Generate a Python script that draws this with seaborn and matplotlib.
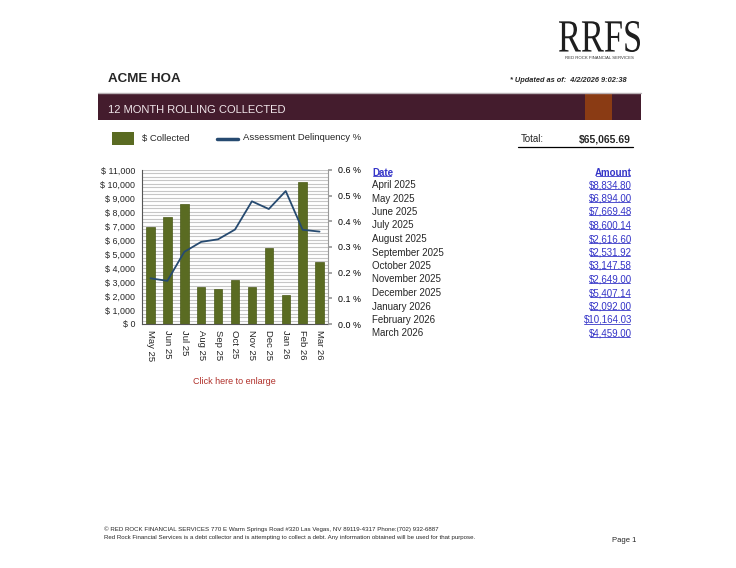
import numpy as np
import matplotlib
matplotlib.use("Agg")
import matplotlib.pyplot as plt
from matplotlib.patches import Rectangle, PathPatch
from matplotlib.lines import Line2D
from matplotlib.textpath import TextPath
from matplotlib.font_manager import FontProperties
from matplotlib.transforms import Affine2D
import seaborn as sns

# chart data
months = ["May 25", "Jun 25", "Jul 25", "Aug 25", "Sep 25", "Oct 25",
          "Nov 25", "Dec 25", "Jan 26", "Feb 26", "Mar 26"]
collected = [6894.00, 7669.48, 8600.14, 2616.60, 2531.92, 3147.58,
             2649.00, 5407.14, 2092.00, 10164.03, 4459.00]
delinquency = [0.178, 0.168, 0.281, 0.320, 0.330, 0.368,
               0.478, 0.448, 0.518, 0.367, 0.360]

# table data
table_dates = ["April 2025", "May 2025", "June 2025", "July 2025", "August 2025",
               "September 2025", "October 2025", "November 2025", "December 2025",
               "January 2026", "February 2026", "March 2026"]
table_amounts = [8834.80, 6894.00, 7669.48, 8600.14, 2616.60, 2531.92,
                 3147.58, 2649.00, 5407.14, 2092.00, 10164.03, 4459.00]

left_ticks = list(range(0, 11001, 1000))
right_ticks = [0.0, 0.1, 0.2, 0.3, 0.4, 0.5, 0.6]

GREEN = "#5a6b22"
NAVY = "#264a70"
MAROON = "#441c2d"
RUST = "#8a3b14"
LINK = "#3535c8"

W, H = 736, 568

sns.set_theme(style="white")
plt.rcParams["font.family"] = ["Liberation Sans", "DejaVu Sans"]

fig = plt.figure(figsize=(W / 100, H / 100), dpi=100)
fig.patch.set_facecolor("white")


def fx(px):
    return px / W


def fy(py):
    return 1 - py / H


# main chart
ax = fig.add_axes([fx(142), fy(324), fx(328) - fx(142), fy(170) - fy(324)])
sns.barplot(x=months, y=collected, color=GREEN, saturation=1, width=0.5,
            edgecolor="#4a5a18", linewidth=0.5, ax=ax)
ax.set_xlim(-0.5, len(months) - 0.5)
ax.set_ylim(0, 11000)
ax.set_yticks(left_ticks)
ax.set_yticklabels([f"$ {v:,.0f}" for v in left_ticks])
ax.set_yticks(np.arange(0, 11001, 250), minor=True)
ax.grid(which="both", axis="y", color="#c6c6c6", linewidth=0.8)
ax.set_axisbelow(True)
ax.set_xlabel("")
ax.set_ylabel("")
ax.tick_params(axis="y", which="major", labelsize=6.4, length=0, pad=5)
ax.tick_params(axis="y", which="minor", length=0)
ax.tick_params(axis="x", labelsize=6.8, length=0, pad=4, labelrotation=270)
for lab in ax.get_xticklabels():
    lab.set_verticalalignment("top")
ax.spines["top"].set_visible(False)
ax.spines["left"].set_color("#555555")
ax.spines["bottom"].set_color("#555555")
ax.spines["right"].set_color("#999999")
for s in ax.spines.values():
    s.set_linewidth(0.8)

ax2 = ax.twinx()
sns.lineplot(x=np.arange(len(months)), y=delinquency, color=NAVY,
             linewidth=1.3, ax=ax2)
ax2.set_ylim(0, 0.6)
ax2.set_yticks(right_ticks)
ax2.set_yticklabels([f"{v:.1f} %" for v in right_ticks])
ax2.tick_params(axis="y", labelsize=6.4, length=3, pad=4,
                colors="#999999", labelcolor="black")
ax2.set_ylabel("")
for s in ax2.spines.values():
    s.set_visible(False)
ax2.grid(False)

fig.text(fx(234), fy(381), "Click here to enlarge", color="#b0302a",
         fontsize=6.5, ha="center", va="center")

# header
fig.text(fx(108), fy(79), "ACME HOA", fontsize=9.6, fontweight="bold",
         ha="left", va="center")
fig.text(fx(627), fy(80), "* Updated as of:  4/2/2026 9:02:38", fontsize=5.3,
         fontweight="bold", style="italic", ha="right", va="center")

fig.add_artist(Line2D([fx(98), fx(641)], [fy(92.5), fy(92.5)],
                      color="#b8b0b4", linewidth=1.0))
fig.add_artist(Rectangle((fx(98), fy(120)), fx(641) - fx(98), fy(93) - fy(120),
                         transform=fig.transFigure, facecolor=MAROON, edgecolor="none"))
fig.add_artist(Rectangle((fx(585), fy(120)), fx(612) - fx(585), fy(93) - fy(120),
                         transform=fig.transFigure, facecolor=RUST, edgecolor="none"))
fig.text(fx(108), fy(110), "12 MONTH ROLLING COLLECTED", color="#f0e6ea",
         fontsize=8.0, ha="left", va="center")

# logo
logo_path = TextPath((0, 0), "RRFS", size=40,
                     prop=FontProperties(family="Liberation Serif"))
bb = logo_path.get_extents()
sx = (640 - 559) / bb.width
sy = (52 - 21) / bb.height
logo_tr = Affine2D().translate(-bb.x0, -bb.y0).scale(sx, sy).translate(559, H - 52)
fig.add_artist(PathPatch(logo_path, transform=logo_tr, facecolor="#1e1e1e",
                         edgecolor="none"))
fig.text(fx(599.5), fy(58), "RED ROCK FINANCIAL SERVICES", fontsize=3.1,
         ha="center", va="center", color="#333333")

# legend
fig.add_artist(Rectangle((fx(112), fy(145)), fx(134) - fx(112), fy(132) - fy(145),
                         transform=fig.transFigure, facecolor=GREEN, edgecolor="none"))
fig.text(fx(142), fy(138), "$ Collected", fontsize=6.8, ha="left", va="center")
fig.add_artist(Line2D([fx(217), fx(238)], [fy(139), fy(139)],
                      color=NAVY, linewidth=2.5))
fig.text(fx(243), fy(138), "Assessment Delinquency %", fontsize=6.8,
         ha="left", va="center")

total = sum(table_amounts)
fig.text(fx(521), fy(139), "Total:", fontsize=7, ha="left", va="center")
fig.text(fx(631), fy(139), f"${total:,.2f}", fontsize=7.5, fontweight="bold",
         ha="right", va="center")
fig.add_artist(Line2D([fx(518), fx(633)], [fy(146.5), fy(146.5)],
                      color="black", linewidth=0.9))

# table
links = []
t = fig.text(fx(372), fy(172.5), "Date", fontsize=7, fontweight="bold",
             color=LINK, ha="left", va="center")
links.append(t)
t = fig.text(fx(632), fy(172.5), "Amount", fontsize=7, fontweight="bold",
             color=LINK, ha="right", va="center")
links.append(t)
for i, (d, a) in enumerate(zip(table_dates, table_amounts)):
    y = 185 + i * 13.5
    fig.text(fx(372), fy(y), d, fontsize=7, ha="left", va="center")
    t = fig.text(fx(632), fy(y), f"${a:,.2f}", fontsize=7, color=LINK,
                 ha="right", va="center")
    links.append(t)

# footer
fig.text(fx(104), fy(529), "\u00a9 RED ROCK FINANCIAL SERVICES 770 E Warm Springs Road #320 "
         "Las Vegas, NV 89119-4317 Phone:(702) 932-6887", fontsize=4.4,
         ha="left", va="center")
fig.text(fx(104), fy(537), "Red Rock Financial Services is a debt collector and is attempting "
         "to collect a debt. Any information obtained will be used for that purpose.",
         fontsize=4.4, ha="left", va="center")
fig.text(fx(636), fy(541), "Page 1", fontsize=5.5, ha="right", va="center")

# underline the link texts
fig.canvas.draw()
for t in links:
    ext = t.get_window_extent()
    yl = ext.y0 + 1.5
    fig.add_artist(Line2D([(ext.x0 + 0.5) / W, (ext.x1 - 2.0) / W], [yl / H, yl / H],
                          color=t.get_color(), linewidth=0.6))

fig.savefig("out.png", dpi=100, facecolor="white")
